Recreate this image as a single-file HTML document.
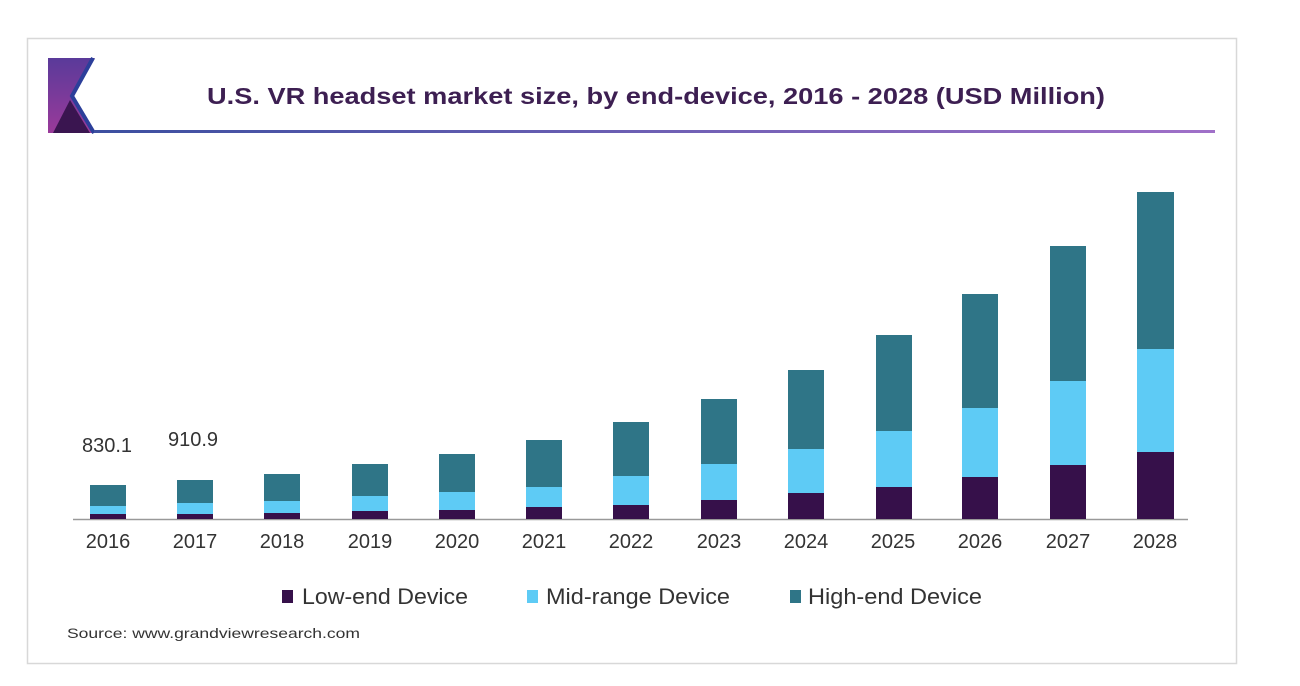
<!DOCTYPE html>
<html><head><meta charset="utf-8"><style>
html,body{margin:0;padding:0;background:#fff;}
</style></head><body>
<svg width="1300" height="681" xmlns="http://www.w3.org/2000/svg" font-family="Liberation Sans, Arial, sans-serif">
<defs>
<linearGradient id="lg" x1="0" x2="1" y1="0" y2="0"><stop offset="0" stop-color="#3c4fa0"/><stop offset="1" stop-color="#a070c8"/></linearGradient>
<linearGradient id="kg" x1="0" x2="0" y1="0" y2="1"><stop offset="0" stop-color="#5a3a9a"/><stop offset="1" stop-color="#9a3a9a"/></linearGradient>
</defs>
<rect x="27.5" y="38.5" width="1209" height="625" fill="#fff" stroke="#d8d8d8" stroke-width="1.5"/>
<polygon points="48,58 95,58 73,96 95,133 48,133" fill="url(#kg)"/>
<polygon points="53,133 70,100 90,133" fill="#3a1550"/>
<polyline points="93,58 72,96 94,133" fill="none" stroke="#2c3f9a" stroke-width="4"/>
<rect x="94" y="130" width="1121" height="3" fill="url(#lg)"/>
<text x="207" y="104" font-size="23" font-weight="bold" fill="#3d1f52" textLength="898" lengthAdjust="spacingAndGlyphs">U.S. VR headset market size, by end-device, 2016 - 2028 (USD Million)</text>
<line x1="73" y1="519.5" x2="1188" y2="519.5" stroke="#999" stroke-width="1.5"/>
<text x="107" y="452" text-anchor="middle" font-size="20" fill="#333">830.1</text>
<text x="193" y="446" text-anchor="middle" font-size="20" fill="#333">910.9</text>
<g font-size="20" fill="#333" text-anchor="middle">
<text x="108" y="548">2016</text><text x="195" y="548">2017</text><text x="282" y="548">2018</text><text x="370" y="548">2019</text><text x="457" y="548">2020</text><text x="544" y="548">2021</text><text x="631" y="548">2022</text><text x="719" y="548">2023</text><text x="806" y="548">2024</text><text x="893" y="548">2025</text><text x="980" y="548">2026</text><text x="1068" y="548">2027</text><text x="1155" y="548">2028</text>
</g>
<rect x="282" y="590" width="11" height="13" fill="#36104a"/>
<text x="302" y="604" font-size="22" fill="#333" textLength="166" lengthAdjust="spacingAndGlyphs">Low-end Device</text>
<rect x="527" y="590" width="11" height="13" fill="#5ecbf5"/>
<text x="546" y="604" font-size="22" fill="#333" textLength="184" lengthAdjust="spacingAndGlyphs">Mid-range Device</text>
<rect x="790" y="590" width="11" height="13" fill="#2f7587"/>
<text x="808" y="604" font-size="22" fill="#333" textLength="174" lengthAdjust="spacingAndGlyphs">High-end Device</text>
<text x="67" y="638" font-size="14" fill="#333" textLength="293" lengthAdjust="spacingAndGlyphs">Source: www.grandviewresearch.com</text>
<g>
<rect x="90" y="485" width="36" height="21" fill="#2f7587"/><rect x="90" y="506" width="36" height="8" fill="#5ecbf5"/><rect x="90" y="514" width="36" height="5" fill="#36104a"/>
<rect x="177" y="480" width="36" height="23" fill="#2f7587"/><rect x="177" y="503" width="36" height="11" fill="#5ecbf5"/><rect x="177" y="514" width="36" height="5" fill="#36104a"/>
<rect x="264" y="474" width="36" height="27" fill="#2f7587"/><rect x="264" y="501" width="36" height="12" fill="#5ecbf5"/><rect x="264" y="513" width="36" height="6" fill="#36104a"/>
<rect x="352" y="464" width="36" height="32" fill="#2f7587"/><rect x="352" y="496" width="36" height="15" fill="#5ecbf5"/><rect x="352" y="511" width="36" height="8" fill="#36104a"/>
<rect x="439" y="454" width="36" height="38" fill="#2f7587"/><rect x="439" y="492" width="36" height="18" fill="#5ecbf5"/><rect x="439" y="510" width="36" height="9" fill="#36104a"/>
<rect x="526" y="440" width="36" height="47" fill="#2f7587"/><rect x="526" y="487" width="36" height="20" fill="#5ecbf5"/><rect x="526" y="507" width="36" height="12" fill="#36104a"/>
<rect x="613" y="422" width="36" height="54" fill="#2f7587"/><rect x="613" y="476" width="36" height="29" fill="#5ecbf5"/><rect x="613" y="505" width="36" height="14" fill="#36104a"/>
<rect x="701" y="399" width="36" height="65" fill="#2f7587"/><rect x="701" y="464" width="36" height="36" fill="#5ecbf5"/><rect x="701" y="500" width="36" height="19" fill="#36104a"/>
<rect x="788" y="370" width="36" height="79" fill="#2f7587"/><rect x="788" y="449" width="36" height="44" fill="#5ecbf5"/><rect x="788" y="493" width="36" height="26" fill="#36104a"/>
<rect x="876" y="335" width="36" height="96" fill="#2f7587"/><rect x="876" y="431" width="36" height="56" fill="#5ecbf5"/><rect x="876" y="487" width="36" height="32" fill="#36104a"/>
<rect x="962" y="294" width="36" height="114" fill="#2f7587"/><rect x="962" y="408" width="36" height="69" fill="#5ecbf5"/><rect x="962" y="477" width="36" height="42" fill="#36104a"/>
<rect x="1050" y="246" width="36" height="135" fill="#2f7587"/><rect x="1050" y="381" width="36" height="84" fill="#5ecbf5"/><rect x="1050" y="465" width="36" height="54" fill="#36104a"/>
<rect x="1137" y="192" width="37" height="157" fill="#2f7587"/><rect x="1137" y="349" width="37" height="103" fill="#5ecbf5"/><rect x="1137" y="452" width="37" height="67" fill="#36104a"/>
</g>
</svg>
</body></html>
